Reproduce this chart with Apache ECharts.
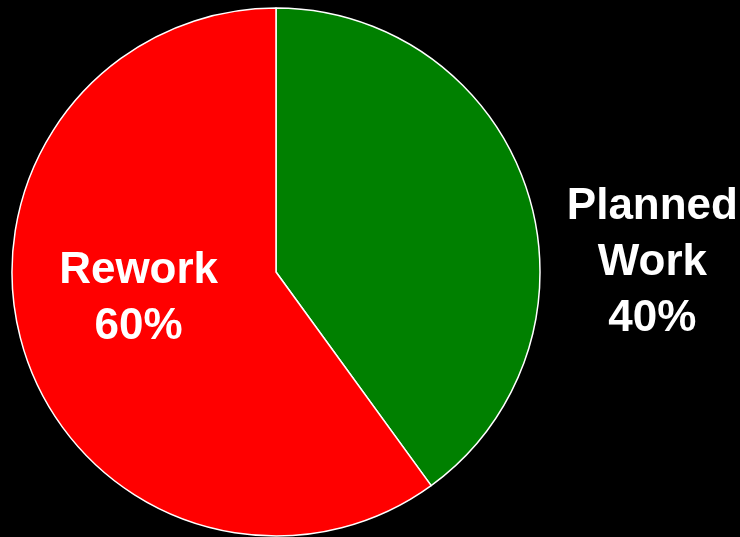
<!DOCTYPE html>
<html>
<head>
<meta charset="utf-8">
<script src="https://cdn.jsdelivr.net/npm/echarts@6/dist/echarts.min.js"></script>
<style>
  html, body { margin: 0; padding: 0; background: #000; }
  #chart { width: 740px; height: 537px; }
</style>
</head>
<body>
<div id="chart"></div>
<script>
// slice names, shares (percent) and colours
const categories = ['Planned\nWork', 'Rework'];
const shares = [40, 60];
const sliceColors = ['#008000', '#ff0000'];

let mychart = echarts.init(document.getElementById('chart'));

// label offsets from the default inside point
const labelOffsets = [[248, 33], [-9, -15]];

let option = {
    backgroundColor: '#000000',
    animation: false,
    series: [
        {
            type: 'pie',
            center: [276, 272],
            radius: [0, 264],
            startAngle: 90,
            clockwise: true,
            avoidLabelOverlap: false,
            itemStyle: {
                borderColor: '#ffffff',
                borderWidth: 1.5
            },
            label: {
                show: true,
                position: 'inside',
                color: '#ffffff',
                fontFamily: 'Liberation Sans, Arial, sans-serif',
                fontWeight: 'bold',
                fontSize: 44,
                lineHeight: 56,
                align: 'center',
                formatter: function (p) {
                    return p.name + '\n' + p.value + '%';
                }
            },
            labelLine: { show: false },
            data: categories.map(function (name, i) {
                return {
                    name: name,
                    value: shares[i],
                    itemStyle: { color: sliceColors[i] },
                    label: { offset: labelOffsets[i] }
                };
            })
        }
    ]
};
mychart.setOption(option);
window.addEventListener('resize', function () {
    mychart.resize();
});
</script>
</body>
</html>
